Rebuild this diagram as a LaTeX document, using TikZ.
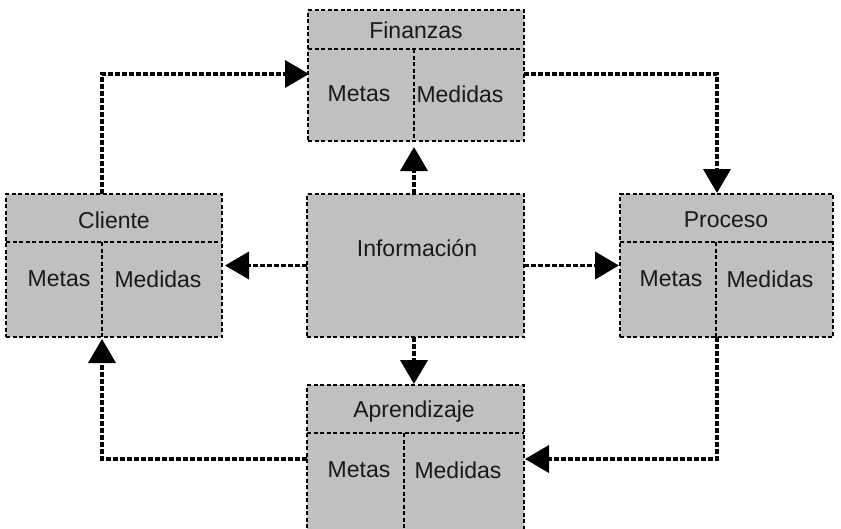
\documentclass[tikz,border=0pt]{standalone}
\usepackage{fontspec}
\setmainfont{Liberation Sans}
\usetikzlibrary{arrows.meta}

\tikzset{
  panel/.style={draw=black, fill=panelgray, line width=1.4pt,
    dash pattern=on 4pt off 2.5pt, rectangle, inner sep=0pt, outer sep=0pt},
  divider/.style={draw=black, line width=1.4pt, dash pattern=on 4pt off 2.5pt},
  label/.style={font=\fontsize{23}{26}\selectfont, text=black!90, inner sep=0pt},
  link/.style={draw=black, line width=3.8pt, dash pattern=on 5pt off 2pt,
    -{Triangle[length=24pt,width=27pt]}},
}
\definecolor{panelgray}{RGB}{192,192,192}

\begin{document}
\begin{tikzpicture}[x=1pt, y=-1pt]
\clip (0,0) rectangle (841,528);

% perspective panels
\node[panel, minimum width=216pt, minimum height=131pt] (fin) at (416,75.5) {};
\node[panel, minimum width=216pt, minimum height=143pt] (cli) at (114,265.5) {};
\node[panel, minimum width=213pt, minimum height=143pt] (pro) at (726.5,265.5) {};
\node[panel, minimum width=217pt, minimum height=143pt] (inf) at (415.5,265.5) {};
\node[panel, minimum width=217pt, minimum height=155pt] (apr) at (415.5,462.5) {};

% header rules and column dividers
\draw[divider] (fin.west |- 0,49) -- (fin.east |- 0,49);
\draw[divider] (414,49) -- (fin.south -| 414,0);
\draw[divider] (cli.west |- 0,242) -- (cli.east |- 0,242);
\draw[divider] (102,242) -- (cli.south -| 102,0);
\draw[divider] (pro.west |- 0,242) -- (pro.east |- 0,242);
\draw[divider] (716,242) -- (pro.south -| 716,0);
\draw[divider] (apr.west |- 0,433) -- (apr.east |- 0,433);
\draw[divider] (404,433) -- (apr.south -| 404,0);

% texts
\node[label] (finT) at (416,30) {Finanzas};
\node[label] (finM) at (359,94) {Metas};
\node[label] (finD) at (460,94) {Medidas};
\node[label] (cliT) at (114,220) {Cliente};
\node[label] (cliM) at (59,279) {Metas};
\node[label] (cliD) at (158,279) {Medidas};
\node[label] (proT) at (726,220) {Proceso};
\node[label] (proM) at (671,279) {Metas};
\node[label] (proD) at (770,279) {Medidas};
\node[label] (infT) at (417,248) {Información};
\node[label] (aprT) at (414,412) {Aprendizaje};
\node[label] (aprM) at (359,470) {Metas};
\node[label] (aprD) at (458,470) {Medidas};

% bend points of the outer loop
\coordinate (c1) at (102,74);
\coordinate (c2) at (717,74);
\coordinate (c3) at (717,459);
\coordinate (c4) at (102,459);

% connectors from the centre panel
\draw[link, shorten >=6pt] (inf.north -| 414,0) -- (fin.south -| 414,0);
\draw[link, shorten >=3pt] (inf.west) -- (cli.east);
\draw[link, shorten >=1pt] (inf.east) -- (pro.west);
\draw[link, shorten >=1pt] (inf.south -| 414,0) -- (apr.north -| 414,0);

% outer loop
\draw[link, shorten >=-1pt] (cli.north -| c1) -- (c1) -- (fin.west |- c1);
\draw[link, shorten >=1pt] (fin.east |- c2) -- (c2) -- (pro.north -| c2);
\draw[link, shorten >=1pt] (pro.south -| c3) -- (c3) -- (apr.east |- c3);
\draw[link, shorten >=2pt] (apr.west |- c4) -- (c4) -- (cli.south -| c4);
\end{tikzpicture}
\end{document}
